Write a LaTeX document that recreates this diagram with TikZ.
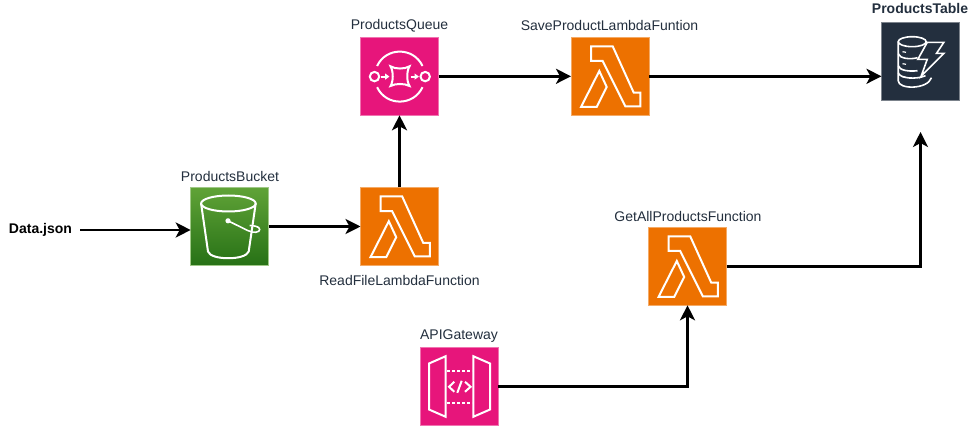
\documentclass[tikz,border=0pt]{standalone}
\usepackage{fontspec}
\setmainfont{Liberation Sans}
\usetikzlibrary{arrows.meta,calc}
\definecolor{inkc}{HTML}{232F3E}
\definecolor{pinkc}{HTML}{E7157B}
\definecolor{orangec}{HTML}{ED7100}
\definecolor{navyc}{HTML}{232F3E}
\definecolor{greentop}{HTML}{60A337}
\definecolor{greenbot}{HTML}{277116}
\tikzset{
  awsbox/.style={minimum size=78pt,inner sep=0pt,outer sep=0pt,draw opacity=1,line width=1pt},
  pinkbox/.style={awsbox,fill=pinkc,draw=pinkc!60!white},
  orangebox/.style={awsbox,fill=orangec,draw=orangec!60!white},
  navybox/.style={awsbox,fill=navyc,draw=navyc!60!white},
  greenbox/.style={awsbox,top color=greentop,bottom color=greenbot,draw=greentop!60!white},
  lbl/.style={text=inkc,font=\fontsize{14}{16}\selectfont,inner sep=0pt},
  boldlbl/.style={lbl,font=\fontsize{14}{16}\selectfont\bfseries},
  flow/.style={line width=2.7pt,black,-{Stealth[length=15pt,width=15pt,inset=4pt]}},
  glyph/.style={white,line width=2pt,line join=miter},
  lambdaicon/.pic={
    \draw[glyph] (20,9)--(41.7,9)--(62.7,55.3)--(69.3,55.3)--(69.3,69)--(54.3,69)--(31.7,23.7)--(20,23.7)--cycle;
    \draw[glyph] (28.3,33.7)--(35.7,49.7)--(25.7,69.7)--(10,69.7)--cycle;
  },
  queueicon/.pic={
    \draw[glyph] (14,39.3) circle (4.7);
    \draw[glyph] (64.7,39.3) circle (4.7);
    \draw[glyph] (16.6,28.7) .. controls (25.6,9.5) and (53,9.5) .. (62,28.7);
    \draw[glyph] (16.6,49.9) .. controls (25.6,69.1) and (53,69.1) .. (62,49.9);
    \draw[glyph] (30,29) .. controls (35,32) and (44,32) .. (49,29) .. controls (46,34) and (46,44) .. (49,48.7) .. controls (44,46) and (35,46) .. (30,48.7) .. controls (33,44) and (33,34) .. (30,29) -- cycle;
    \draw[glyph,-{Stealth[length=4.5pt,width=6pt,inset=0pt]}] (20.5,39.3)--(29,39.3);
    \draw[glyph,-{Stealth[length=4.5pt,width=6pt,inset=0pt]}] (50,39.3)--(58.5,39.3);
  },
  bucketicon/.pic={
    \draw[glyph] (37.7,16) ellipse[x radius=27.3,y radius=8];
    \draw[glyph] (10.4,16) -- (17.3,64) .. controls (20,73) and (55,73) .. (58,64) -- (65,16);
    \fill[white] (37.3,33.3) circle (2.6);
    \draw[glyph,line width=1.6pt] (37.3,33.3) -- (57,43) .. controls (63,46) and (69,45) .. (69,42) .. controls (69,39) and (63,38) .. (59,38);
  },
  gatewayicon/.pic={
    \draw[glyph] (9,16)--(25.7,8.7)--(25.7,69.3)--(9,62)--cycle;
    \draw[glyph] (53.3,8.7)--(70,16)--(70,62)--(53.3,69.3)--cycle;
    \draw[glyph,dash pattern=on 3pt off 2pt] (27,23.7)--(52,23.7);
    \draw[glyph,dash pattern=on 3pt off 2pt] (27,55)--(52,55);
    \draw[glyph] (34.3,34.3)--(29,39.3)--(34.3,44.3);
    \draw[glyph] (41.7,33.3)--(37.3,45.3);
    \draw[glyph] (45,34.3)--(50.6,39.3)--(45,44.3);
  },
  dynamoicon/.pic={
    \draw[glyph,line width=1.6pt] (30.7,19) ellipse[x radius=14,y radius=5];
    \draw[glyph,line width=1.6pt] (16.7,19) -- (16.7,58) .. controls (16.7,67) and (46,67) .. (50,55);
    \draw[glyph,line width=1.6pt] (16.7,31) .. controls (18,36) and (29,37) .. (36,35);
    \draw[glyph,line width=1.6pt] (16.7,43) .. controls (18,48) and (28,49) .. (36,48);
    \draw[glyph,line width=1.6pt] (16.7,50) .. controls (18,56) and (35,57) .. (44,53);
    \draw[glyph,line width=1.6pt] (44.7,19) -- (44.7,25);
    \draw[glyph,line width=1.2pt] (21,29)--(24.5,29.6) (21,41)--(24.5,41.6) (21,54)--(24.5,54.6);
    \draw[glyph,line width=1.6pt,fill=navyc] (45.7,19.7)--(62.3,19.7)--(55,30.7)--(62.3,30.7)--(39.7,53.3)--(45.7,36.7)--(36.3,36.7)--cycle;
  },
}
\begin{document}
\begin{tikzpicture}[x=1pt,y=-1pt]
\useasboundingbox (0,0) rectangle (968,427);
\fill[white] (0,0) rectangle (968,427);
% boxes
\node[greenbox]  (bucket) at (229.7,226.5) {};
\node[orangebox] (read)   at (399.5,226.5) {};
\node[pinkbox]   (queue)  at (399.5,76.3) {};
\node[orangebox] (save)   at (610,76.3) {};
\node[orangebox] (getall) at (687.5,266.3) {};
\node[pinkbox]   (api)    at (459,386.5) {};
\node[navybox]   (table)  at (920.5,61.7) {};
% icons
\pic at (bucket.north west) {bucketicon};
\pic at (read.north west) {lambdaicon};
\pic at (queue.north west) {queueicon};
\pic at (save.north west) {lambdaicon};
\pic at (getall.north west) {lambdaicon};
\pic at (api.north west) {gatewayicon};
\pic at (table.north west) {dynamoicon};
% labels
\node[boldlbl,text=black] (data) at (40.5,230) {Data.json};
\node[lbl] (lbucket) at (230,176) {ProductsBucket};
\node[lbl] (lread)   at (399.5,280.5) {ReadFileLambdaFunction};
\node[lbl] (lqueue)  at (399.5,25.5) {ProductsQueue};
\node[lbl] (lsave)   at (609.5,25.5) {SaveProductLambdaFuntion};
\node[lbl] (lgetall) at (688,216) {GetAllProductsFunction};
\node[lbl] (lapi)    at (459,336) {APIGateway};
\node[boldlbl] (ltable) at (920,9) {ProductsTable};
% connectors
\coordinate (datastart) at (80,230);
\coordinate (tablefoot) at (920.5,132);
\draw[flow] (datastart) -- (bucket.west |- datastart);
\draw[flow] (bucket.east) -- (read.west);
\draw[flow] (read.north) -- (queue.south);
\draw[flow] (queue.east) -- (save.west);
\draw[flow] (save.east) -- (table.west |- save.east);
\draw[flow] (getall.east) -| (tablefoot);
\draw[flow] (api.east) -| (getall.south);
\end{tikzpicture}
\end{document}
